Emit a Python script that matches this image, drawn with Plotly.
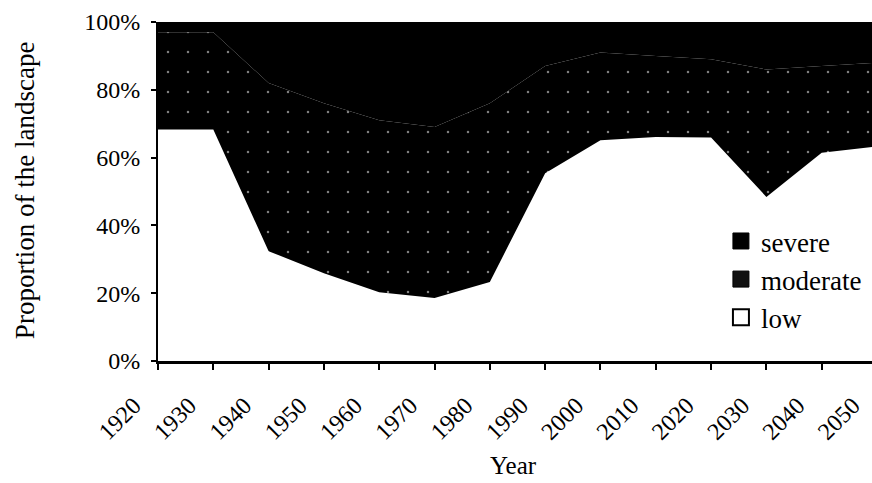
import plotly.graph_objects as go

years = [1920, 1930, 1940, 1950, 1960, 1970, 1980, 1990, 2000, 2010, 2020, 2030, 2040, 2050]
low = [68.3, 68.3, 32.4, 25.9, 20.3, 18.6, 23.3, 55.4, 65.1, 66.1, 65.9, 48.4, 61.4, 63.3]
moderate = [28.7, 28.7, 49.6, 50.1, 50.7, 50.4, 52.7, 31.6, 25.9, 23.9, 23.1, 37.6, 25.6, 24.7]
severe = [3.0, 3.0, 18.0, 24.0, 29.0, 31.0, 24.0, 13.0, 9.0, 10.0, 11.0, 14.0, 13.0, 12.0]
y_ticks = [0, 20, 40, 60, 80, 100]
y_ticktext = [f"{v}%" for v in y_ticks]
x_ticktext = [str(y) for y in years]

FONT = "Liberation Serif"

fig = go.Figure()
fig.add_trace(go.Scatter(x=years, y=low, name="low", stackgroup="one", mode="none",
                         fillcolor="white", showlegend=False))
fig.add_trace(go.Scatter(x=years, y=moderate, name="moderate", stackgroup="one", mode="none",
                         fillcolor="black",
                         fillpattern=dict(shape=".", bgcolor="black", fgcolor="white",
                                          size=20, solidity=0.012),
                         showlegend=False))
fig.add_trace(go.Scatter(x=years, y=severe, name="severe", stackgroup="one", mode="none",
                         fillcolor="black", showlegend=False))

# legend entries (square swatches)
legend_style = {
    "severe": dict(color="black", line=dict(color="black", width=1)),
    "moderate": dict(color="#111111", line=dict(color="black", width=1)),
    "low": dict(color="white", line=dict(color="black", width=2)),
}
for nm in ["severe", "moderate", "low"]:
    fig.add_trace(go.Scatter(x=[None], y=[None], name=nm, mode="markers",
                             marker=dict(symbol="square", size=17, **legend_style[nm]),
                             showlegend=True))

fig.update_layout(
    width=877, height=483,
    margin=dict(l=158, r=0, t=21.5, b=121.5),
    paper_bgcolor="white", plot_bgcolor="white",
    font=dict(family=FONT, size=24, color="black"),
    showlegend=True,
    legend=dict(x=0.986, y=0.425, xanchor="right", yanchor="top",
                bgcolor="rgba(0,0,0,0)", traceorder="normal",
                font=dict(family=FONT, size=27, color="black"),
                itemwidth=30),
    xaxis=dict(range=[1920, 2050], tickvals=years, ticktext=x_ticktext,
               tickangle=-45, showgrid=False, zeroline=False,
               showline=True, linecolor="black", linewidth=3,
               ticks="outside", ticklen=6, tickwidth=2, tickcolor="black",
               ticklabelstandoff=12, ticklabelshift=-24,
               tickfont=dict(family=FONT, size=24, color="black")),
    yaxis=dict(range=[0, 100], tickvals=y_ticks, ticktext=y_ticktext,
               showgrid=False, zeroline=False,
               showline=True, linecolor="black", linewidth=2,
               ticks="outside", ticklen=5, tickwidth=2, tickcolor="black",
               ticklabelstandoff=6,
               tickfont=dict(family=FONT, size=24, color="black")),
    annotations=[
        dict(text="Year", xref="paper", yref="paper", x=0.495, y=-0.307,
             xanchor="center", yanchor="middle", showarrow=False,
             font=dict(family=FONT, size=25, color="black")),
        dict(text="Proportion of the landscape", xref="paper", yref="paper",
             x=-0.185, y=0.504, textangle=-90, xanchor="center", yanchor="middle",
             showarrow=False, font=dict(family=FONT, size=27, color="black")),
    ],
)

fig.write_html(
    "out.html",
    config={"displayModeBar": False},
    post_script="document.body.style.margin='0';document.body.style.overflow='hidden';"
                "document.documentElement.style.overflow='hidden';",
)
